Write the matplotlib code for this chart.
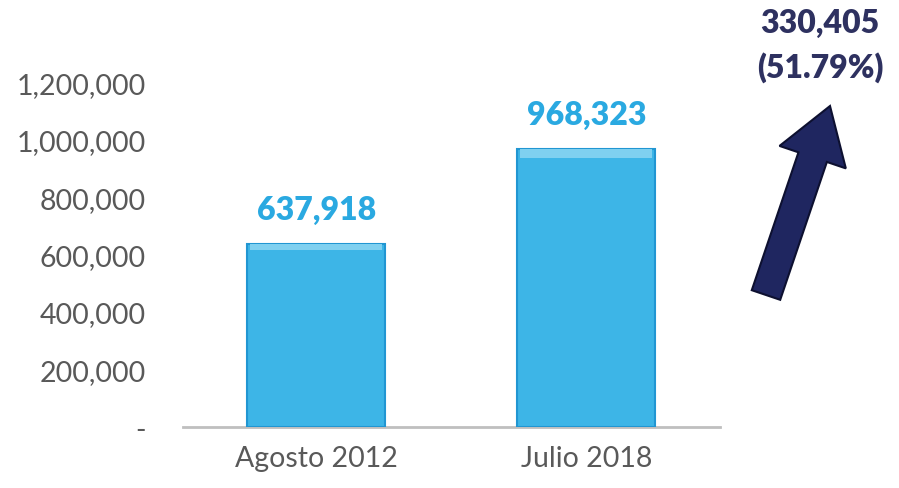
import matplotlib.pyplot as plt
from matplotlib.patches import FancyArrow
from matplotlib.transforms import IdentityTransform

# datos
categorias = ["Agosto 2012", "Julio 2018"]
valores = [637918, 968323]
ticks_y = [0, 200000, 400000, 600000, 800000, 1000000, 1200000]
incremento = valores[1] - valores[0]
porcentaje = incremento / valores[0] * 100

plt.rcParams['font.family'] = ['Lato', 'DejaVu Sans']

fig = plt.figure(figsize=(8.99, 4.89), dpi=100)
ax = fig.add_axes([0.2036, 0.1247, 0.597, 0.823])

x = range(len(categorias))
ax.bar(x, valores, width=0.51, color="#3DB5E7", edgecolor="#2196D2", linewidth=1.5, zorder=3)
# brillo superior del bisel
ax.bar(x, [v * 0.03 for v in valores], bottom=[v * 0.968 for v in valores],
       width=0.49, color="#7FD0F0", linewidth=0, zorder=4)

for xi, v in zip(x, valores):
    ax.text(xi, v + 68000, f"{v:,}", ha="center", va="bottom", fontsize=23,
            fontweight="heavy", color="#2AA9E1")

ax.set_xlim(-0.493, 1.494)
ax.set_ylim(0, 1400000)
ax.set_yticks(ticks_y)
ax.set_yticklabels(["-" if t == 0 else f"{t:,}" for t in ticks_y])
ax.set_xticks(list(x))
ax.set_xticklabels(categorias)
ax.tick_params(axis="both", length=0, labelsize=20.5, colors="#595959")
ax.tick_params(axis="y", pad=27)
ax.tick_params(axis="x", pad=13)
for lbl in ax.get_yticklabels():
    lbl.set_horizontalalignment("right")

for s in ["top", "right", "left"]:
    ax.spines[s].set_visible(False)
ax.spines["bottom"].set_color("#BFBFBF")
ax.spines["bottom"].set_linewidth(2)

# flecha de incremento (en pixeles)
flecha = FancyArrow(766, 193, 64, 189, width=30, head_width=70, head_length=54,
                    length_includes_head=True, transform=IdentityTransform(),
                    facecolor="#1F2660", edgecolor="#0D1030", linewidth=1.5)
fig.patches.append(flecha)

fig.text(0.912, 0.952, f"{incremento:,}", ha="center", va="center", fontsize=23,
         fontweight="heavy", color="#2E3160")
fig.text(0.912, 0.862, f"({porcentaje:.2f}%)", ha="center", va="center", fontsize=23,
         fontweight="heavy", color="#2E3160")

plt.savefig("out.png", dpi=100)
